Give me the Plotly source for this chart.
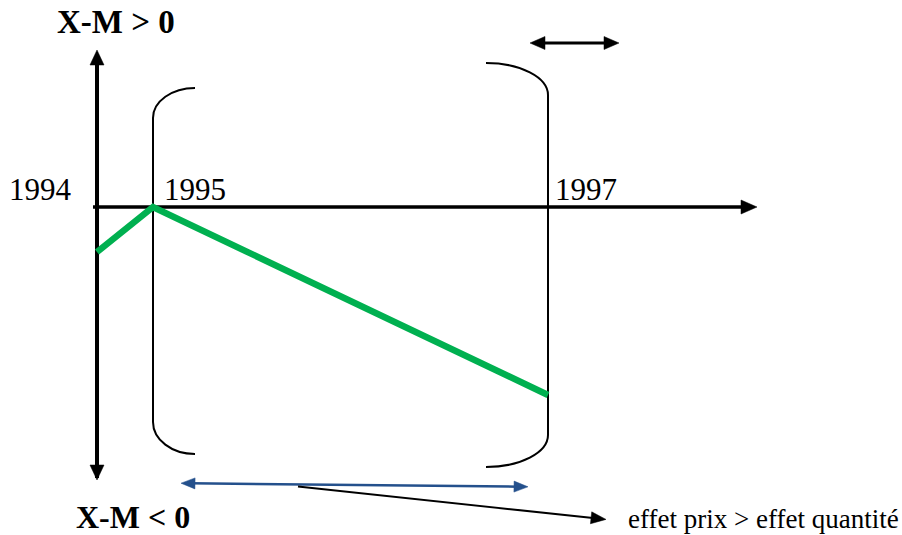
import math
import plotly.graph_objects as go

# ---------------- data ----------------
years = ["1994", "1995", "1997"]
balance = [-0.45, 0.0, -1.88]          # X-M (arbitrary units, 0 = equilibrium)
label_top = "X-M > 0"
label_bottom = "X-M < 0"
effect_label = "effet prix > effet quantité"

# ---------------- layout geometry (pixels of the 902x535 canvas) ----------------
W, H = 902, 535
Y0 = 207          # pixel row of the horizontal axis (X-M = 0)
K = 100.0         # pixels per unit of X-M
year_x = {"1994": 97, "1995": 153, "1997": 548}


def py(p):
    """pixel row -> value on y axis"""
    return (Y0 - p) / K


def path(cmds):
    out = []
    for c in cmds:
        if isinstance(c, str):
            out.append(c)
        else:
            out.append(f"{c[0]:.2f},{py(c[1]):.4f}")
    return " ".join(out)


def arrowhead(tx, ty, bx, by, L, hw, color):
    dx, dy = tx - bx, ty - by
    n = math.hypot(dx, dy)
    ux, uy = dx / n, dy / n
    cx, cy = tx - ux * L, ty - uy * L
    p1 = (cx - uy * hw, cy + ux * hw)
    p2 = (cx + uy * hw, cy - ux * hw)
    return dict(type="path", xref="x", yref="y", layer="above",
                path=path(["M", (tx, ty), "L", p1, "L", p2, "Z"]),
                fillcolor=color, line=dict(color=color, width=0.5))


def seg(x0, y0, x1, y1, color, width, layer="below"):
    return dict(type="line", xref="x", yref="y", layer=layer,
                x0=x0, y0=py(y0), x1=x1, y1=py(y1),
                line=dict(color=color, width=width))


def quarter(x0, y0, x1, y1, horiz_first):
    k = 0.552
    if horiz_first:
        c1 = (x0 + k * (x1 - x0), y0)
        c2 = (x1, y1 - k * (y1 - y0))
    else:
        c1 = (x0, y0 + k * (y1 - y0))
        c2 = (x1 - k * (x1 - x0), y1)
    return ["C", c1, c2, (x1, y1)]


shapes = []
BLACK = "#000000"
BLUE = "#24508c"

# main axes
shapes.append(seg(97, 478, 97, 60, BLACK, 4))
shapes.append(arrowhead(97, 50, 97, 70, 15, 7, BLACK))
shapes.append(arrowhead(97, 480, 97, 460, 15, 7, BLACK))
shapes.append(seg(93, 207, 745, 207, BLACK, 3.5))
shapes.append(arrowhead(757, 207, 740, 207, 16, 7, BLACK))

# left bracket
lb = ["M", (195, 88)] + quarter(195, 88, 153, 118, True) + ["L", (153, 422)] \
     + quarter(153, 422, 195, 454, False)
shapes.append(dict(type="path", xref="x", yref="y", layer="below", path=path(lb),
                   line=dict(color=BLACK, width=2)))
# right bracket
rb = ["M", (486, 63)] + quarter(486, 63, 548, 95, True) + ["L", (548, 435)] \
     + quarter(548, 435, 486, 467, False)
shapes.append(dict(type="path", xref="x", yref="y", layer="below", path=path(rb),
                   line=dict(color=BLACK, width=2)))

# top double arrow
shapes.append(seg(540, 43, 608, 43, BLACK, 3))
shapes.append(arrowhead(530, 43, 545, 43, 15, 6.5, BLACK))
shapes.append(arrowhead(619, 43, 604, 43, 15, 6.5, BLACK))

# blue double arrow
shapes.append(seg(190, 483.3, 518, 486.7, BLUE, 2.5))
shapes.append(arrowhead(181, 483.2, 195, 483.4, 14, 5.5, BLUE))
shapes.append(arrowhead(528, 486.8, 514, 486.6, 14, 5.5, BLUE))

# black pointer arrow
shapes.append(seg(298, 486.5, 593, 518, BLACK, 2))
shapes.append(arrowhead(606, 519.4, 590, 517.7, 15, 6, BLACK))

# ---------------- figure ----------------
fig = go.Figure()
fig.add_trace(go.Scatter(
    x=[year_x[y] for y in years], y=balance, mode="lines",
    line=dict(color="#00b050", width=6.5), hoverinfo="skip", showlegend=False))

FONT = "Liberation Serif, Times New Roman, serif"
ann = []


def text(x, y, s, size, bold=False, anchor="left"):
    ann.append(dict(x=x, y=py(y), xref="x", yref="y", text=f"<b>{s}</b>" if bold else s,
                    showarrow=False, xanchor=anchor, yanchor="middle", borderpad=0,
                    font=dict(family=FONT, size=size, color="black")))


text(116, 22, label_top, 33, bold=True, anchor="center")
text(133, 517, label_bottom, 32, bold=True, anchor="center")
text(8, 189, years[0], 31)
text(163, 189, years[1], 31)
text(554, 189, years[2], 31)
text(627, 519, effect_label, 27)

fig.update_layout(
    width=W, height=H, margin=dict(l=0, r=0, t=0, b=0),
    paper_bgcolor="white", plot_bgcolor="white",
    xaxis=dict(range=[0, W], visible=False, fixedrange=True),
    yaxis=dict(range=[py(H), py(0)], visible=False, fixedrange=True),
    shapes=shapes, annotations=ann, showlegend=False)

fig.write_html("out.html", config={"displayModeBar": False},
               post_script="document.body.style.margin='0px';document.body.style.overflow='hidden';")
